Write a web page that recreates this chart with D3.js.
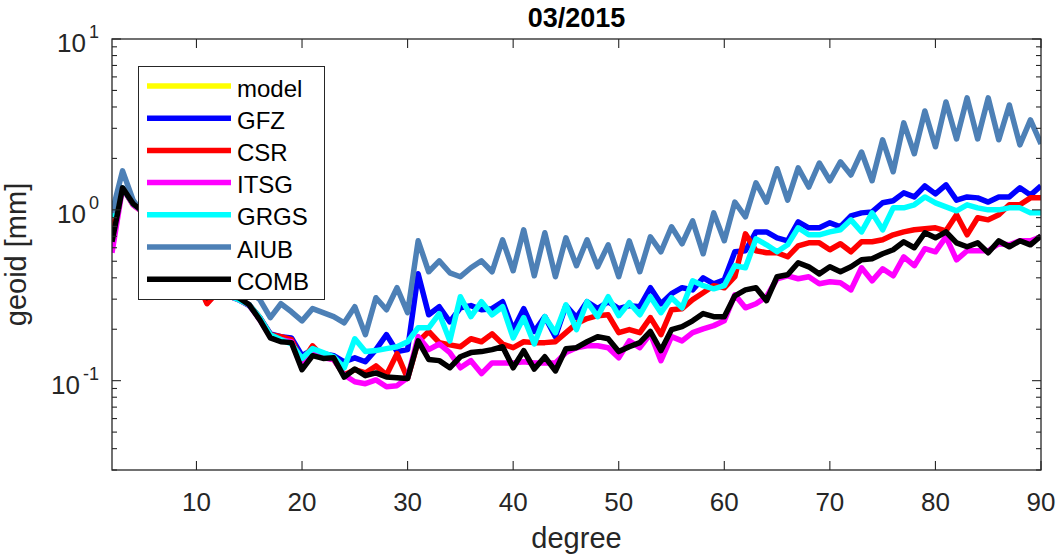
<!DOCTYPE html>
<html><head><meta charset="utf-8">
<script src="https://cdn.jsdelivr.net/npm/d3@7"></script>
<style>
body{margin:0;background:#fff}
svg{display:block}
text{font-family:"Liberation Sans",Arial,Helvetica,sans-serif;fill:#262626}
</style>
</head><body><svg id="c" width="1056" height="556"></svg>
<script>
// ---------------- data ----------------
const chartTitle = "03/2015";
const xLabel = "degree";
const yLabel = "geoid [mm]";
const degrees = d3.range(2, 91); // spherical harmonic degree 2..90
const seriesNames = ["model", "GFZ", "CSR", "ITSG", "GRGS", "AIUB", "COMB"];
const modelValues = []; // not visible in the picture
const gfzValues = [0.91,1.345,1.10,0.973,0.851,0.714,0.60,0.497,0.39,0.286,
  0.331,0.314,0.298,0.275,0.234,0.188,0.181,0.178,0.14,0.152,
  0.144,0.14,0.129,0.136,0.129,0.152,0.186,0.148,0.152,0.422,
  0.243,0.271,0.221,0.267,0.275,0.26,0.264,0.29,0.199,0.264,
  0.194,0.237,0.181,0.275,0.234,0.29,0.264,0.29,0.264,0.275,
  0.271,0.35,0.282,0.323,0.35,0.34,0.40,0.369,0.39,0.568,
  0.576,0.743,0.743,0.686,0.659,0.851,0.785,0.785,0.839,0.796,
  0.923,0.96,0.973,1.10,1.13,1.257,1.19,1.38,1.24,1.40,
  1.14,1.19,1.175,1.11,1.19,1.19,1.345,1.22,1.38];
const csrValues = [0.734,1.345,1.07,0.96,0.851,0.714,0.60,0.497,0.39,0.282,
  0.331,0.314,0.298,0.278,0.234,0.186,0.181,0.174,0.129,0.16,
  0.138,0.133,0.108,0.116,0.111,0.122,0.108,0.144,0.103,0.169,
  0.194,0.167,0.162,0.158,0.176,0.169,0.188,0.164,0.156,0.169,
  0.167,0.167,0.169,0.191,0.216,0.231,0.24,0.243,0.191,0.199,
  0.191,0.234,0.186,0.26,0.264,0.298,0.327,0.36,0.35,0.406,
  0.724,0.576,0.561,0.561,0.531,0.616,0.641,0.641,0.584,0.633,
  0.568,0.65,0.65,0.668,0.714,0.743,0.764,0.774,0.785,0.754,
  0.935,0.714,0.898,0.874,0.935,1.07,1.07,1.175,1.175];
const itsgValues = [0.56,1.345,1.07,0.96,0.851,0.714,0.60,0.497,0.40,0.31,
  0.331,0.314,0.298,0.278,0.227,0.181,0.174,0.169,0.119,0.148,
  0.136,0.133,0.108,0.0986,0.096,0.101,0.0922,0.0935,0.104,0.181,
  0.152,0.164,0.146,0.119,0.131,0.11,0.127,0.127,0.127,0.129,
  0.127,0.127,0.127,0.146,0.156,0.16,0.16,0.156,0.136,0.171,
  0.156,0.188,0.131,0.181,0.171,0.191,0.201,0.21,0.224,0.318,
  0.267,0.282,0.31,0.395,0.411,0.395,0.406,0.369,0.379,0.374,
  0.34,0.458,0.384,0.452,0.411,0.531,0.471,0.592,0.568,0.695,
  0.51,0.576,0.576,0.576,0.633,0.624,0.659,0.659,0.695];
const grgsValues = [0.898,1.345,1.084,0.973,0.851,0.714,0.60,0.497,0.39,0.314,
  0.331,0.314,0.298,0.278,0.234,0.186,0.174,0.164,0.135,0.154,
  0.146,0.138,0.119,0.176,0.148,0.15,0.154,0.158,0.169,0.204,
  0.204,0.247,0.171,0.31,0.237,0.29,0.243,0.271,0.178,0.234,
  0.164,0.237,0.191,0.278,0.199,0.29,0.237,0.31,0.24,0.286,
  0.243,0.31,0.25,0.306,0.267,0.384,0.36,0.345,0.36,0.471,
  0.458,0.677,0.624,0.568,0.624,0.785,0.714,0.714,0.743,0.764,
  0.874,0.743,0.96,0.764,1.027,1.027,1.07,1.19,1.099,1.041,
  0.987,1.07,1.027,1.0,1.0,1.027,1.027,0.96,0.96];
const aiubValues = [0.96,1.69,1.14,0.935,0.851,0.764,0.686,0.624,0.546,0.497,
  0.446,0.40,0.364,0.331,0.298,0.234,0.282,0.253,0.224,0.264,
  0.25,0.237,0.218,0.271,0.186,0.306,0.26,0.35,0.25,0.659,
  0.434,0.503,0.428,0.406,0.458,0.503,0.434,0.668,0.44,0.764,
  0.411,0.734,0.406,0.686,0.471,0.668,0.464,0.624,0.406,0.659,
  0.434,0.695,0.568,0.796,0.633,0.862,0.553,0.96,0.659,1.11,
  0.91,1.44,1.11,1.74,1.14,1.76,1.36,1.88,1.48,1.91,
  1.6,2.18,1.48,2.57,1.67,3.23,2.13,3.79,2.34,4.28,
  2.6,4.52,2.6,4.52,2.57,4.11,2.4,3.36,2.43];
const combValues = [0.65,1.345,1.084,0.973,0.851,0.714,0.60,0.497,0.39,0.306,
  0.331,0.314,0.306,0.278,0.227,0.178,0.169,0.167,0.116,0.14,
  0.135,0.136,0.105,0.117,0.107,0.111,0.105,0.104,0.103,0.171,
  0.133,0.131,0.119,0.138,0.146,0.148,0.152,0.158,0.119,0.15,
  0.117,0.138,0.114,0.154,0.156,0.169,0.181,0.176,0.148,0.158,
  0.167,0.194,0.15,0.199,0.207,0.224,0.247,0.237,0.237,0.314,
  0.34,0.35,0.294,0.406,0.417,0.49,0.464,0.422,0.464,0.434,
  0.464,0.51,0.517,0.553,0.584,0.65,0.60,0.734,0.686,0.743,
  0.641,0.608,0.641,0.561,0.659,0.608,0.659,0.624,0.705];
const xTicks = [10, 20, 30, 40, 50, 60, 70, 80, 90];
const yTicks = [0.1, 1, 10];
const yTickExponents = ["-1", "0", "1"];
const xDomain = [2, 90];
const yDomain = [0.03, 10];

// ---------------- style ----------------
const colors = {model:"#ffff00", GFZ:"#0000ff", CSR:"#ff0000", ITSG:"#ff00ff",
  GRGS:"#00ffff", AIUB:"#4d80b6", COMB:"#000000"};
const axisColor = "#262626";
const M = {left:112, right:1041, top:39, bottom:470};

const seriesData = {model:modelValues, GFZ:gfzValues, CSR:csrValues, ITSG:itsgValues,
  GRGS:grgsValues, AIUB:aiubValues, COMB:combValues};

const svg = d3.select("#c");
const x = d3.scaleLinear().domain(xDomain).range([M.left, M.right]);
const y = d3.scaleLog().domain(yDomain).range([M.bottom, M.top]);

svg.append("defs").append("clipPath").attr("id","plotclip")
  .append("rect").attr("x",M.left).attr("y",M.top)
  .attr("width",M.right-M.left).attr("height",M.bottom-M.top);

// lines
const line = d3.line().defined(d => d[1] != null).x(d => x(d[0])).y(d => y(d[1]));
const gLines = svg.append("g").attr("clip-path","url(#plotclip)");
seriesNames.forEach(name => {
  const vals = seriesData[name];
  const pts = vals.map((v,i) => [degrees[i], v]);
  if (pts.length === 0) return;
  gLines.append("path").datum(pts)
    .attr("d", line).attr("fill","none")
    .attr("stroke", colors[name]).attr("stroke-width",5.5)
    .attr("stroke-linejoin","round").attr("stroke-linecap","butt");
});

// axes box
const gAx = svg.append("g");
gAx.append("rect").attr("x",M.left).attr("y",M.top)
  .attr("width",M.right-M.left).attr("height",M.bottom-M.top)
  .attr("fill","none").attr("stroke",axisColor).attr("stroke-width",1.3);

const majorLen = 9, minorLen = 5;
// x ticks (bottom & top, inward)
xTicks.forEach(t => {
  const px = x(t);
  gAx.append("line").attr("x1",px).attr("x2",px).attr("y1",M.bottom).attr("y2",M.bottom-majorLen)
    .attr("stroke",axisColor).attr("stroke-width",1.1);
  gAx.append("line").attr("x1",px).attr("x2",px).attr("y1",M.top).attr("y2",M.top+majorLen)
    .attr("stroke",axisColor).attr("stroke-width",1.1);
  gAx.append("text").attr("x",px).attr("y",511).attr("text-anchor","middle")
    .attr("font-size",26).text(t);
});
// y ticks (major + minor, left & right)
const yMinor = [];
[0.01, 0.1, 1].forEach(dec => { for (let k=2;k<=9;k++){ const v=k*dec; if (v>=yDomain[0] && v<=yDomain[1]) yMinor.push(v);} });
function yTick(v, len){
  const py = y(v);
  gAx.append("line").attr("x1",M.left).attr("x2",M.left+len).attr("y1",py).attr("y2",py)
    .attr("stroke",axisColor).attr("stroke-width",1.1);
  gAx.append("line").attr("x1",M.right).attr("x2",M.right-len).attr("y1",py).attr("y2",py)
    .attr("stroke",axisColor).attr("stroke-width",1.1);
}
yMinor.forEach(v => yTick(v, minorLen));
yTicks.forEach((v,i) => {
  yTick(v, majorLen);
  const py = y(v);
  const t = gAx.append("text").attr("x",99).attr("y",py+13).attr("text-anchor","end").attr("font-size",26);
  t.append("tspan").text("10");
  t.append("tspan").attr("dx",3).attr("dy",-14).attr("font-size",18).text(yTickExponents[i]);
});

// labels
svg.append("text").attr("x",(M.left+M.right)/2).attr("y",548).attr("text-anchor","middle")
  .attr("font-size",29).text(xLabel);
svg.append("text").attr("transform",`translate(26,${(M.top+M.bottom)/2}) rotate(-90)`)
  .attr("text-anchor","middle").attr("font-size",29).text(yLabel);
svg.append("text").attr("x",(M.left+M.right)/2).attr("y",27).attr("text-anchor","middle")
  .attr("font-size",27).attr("font-weight","bold").style("fill","#000").text(chartTitle);

// legend
const lg = svg.append("g");
lg.append("rect").attr("x",138.5).attr("y",66.5).attr("width",186).attr("height",233)
  .attr("fill","#fff").attr("stroke",axisColor).attr("stroke-width",1);
seriesNames.forEach((name,i) => {
  const ly = 86 + i*32.2;
  lg.append("line").attr("x1",147).attr("x2",231).attr("y1",ly).attr("y2",ly)
    .attr("stroke",colors[name]).attr("stroke-width",5.5);
  lg.append("text").attr("x",237).attr("y",ly+10.5).attr("font-size",24)
    .style("fill","#000").text(name);
});
</script>
</body></html>
